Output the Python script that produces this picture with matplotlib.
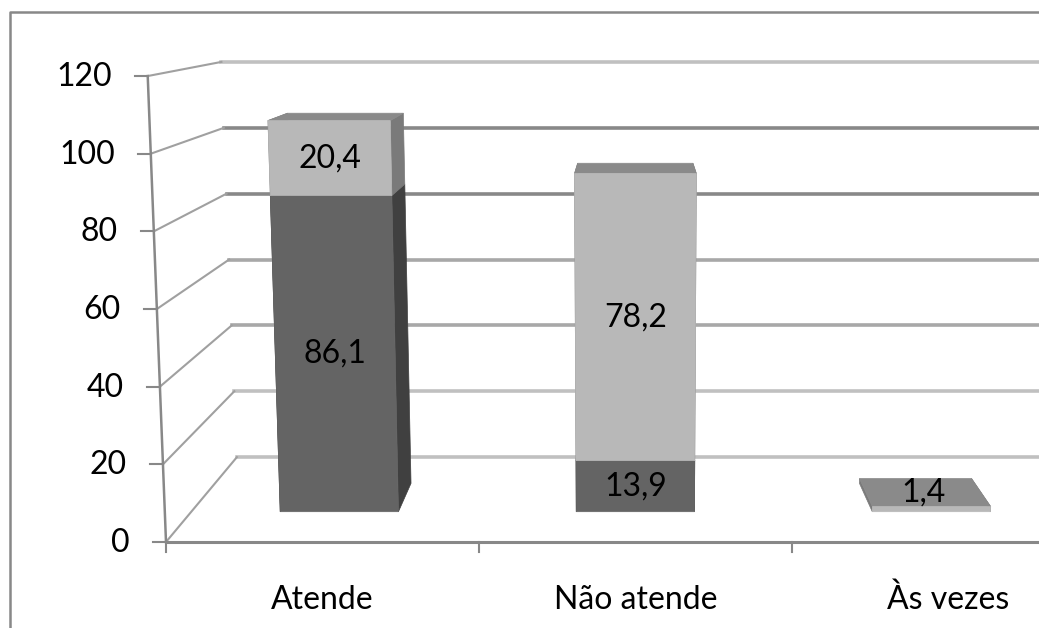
import numpy as np
import matplotlib.pyplot as plt
from matplotlib.patches import Polygon

# Data
categories = ['Atende', 'Não atende', 'Às vezes']
dark_vals = [86.1, 13.9, 0.0]
light_vals = [20.4, 78.2, 1.4]
dark_labels = ['86,1', '13,9', '']
light_labels = ['20,4', '78,2', '1,4']
y_ticks = [0, 20, 40, 60, 80, 100, 120]
grid_colors = ['#c0c0c0', '#c0c0c0', '#a8a8a8', '#a8a8a8', '#888888', '#888888', '#c0c0c0']

# Perspective set-up, in pixels
W, H = 1039, 628
vx, vy = 633, -17      # vanishing point
x0, y0 = 166, 542      # front corner of the floor
cat_w = 313            # width of one category on the front plane
bar_w = 125
px_per_unit = 3.883
k_tilt = 8.4e-5
c_depth = 0.179
z_front, z_back = 0.32, 0.655

FONT = 'Lato'
FS = 23


def proj(X, V, Z):
    h = px_per_unit * V
    xf = vx + (X - vx) * (1 + k_tilt * h)
    yf = y0 - h
    s = 1 / (1 + c_depth * Z)
    return vx + (xf - vx) * s, vy + (yf - vy) * s


def face(ax, pts, color, z):
    ax.add_patch(Polygon([proj(*p) for p in pts], closed=True, facecolor=color,
                         edgecolor=color, lw=0.5, zorder=z))


def box(ax, xl, xr, vb, vt, front, side, top, z):
    zf, zb = z_front, z_back
    face(ax, [(xl, vb, zf), (xl, vt, zf), (xl, vt, zb), (xl, vb, zb)], side, z)
    face(ax, [(xr, vb, zf), (xr, vt, zf), (xr, vt, zb), (xr, vb, zb)], side, z)
    face(ax, [(xl, vt, zf), (xr, vt, zf), (xr, vt, zb), (xl, vt, zb)], top, z + 0.1)
    face(ax, [(xl, vb, zf), (xr, vb, zf), (xr, vt, zf), (xl, vt, zf)], front, z + 0.2)


fig = plt.figure(figsize=(W / 100, H / 100), dpi=100)
ax = fig.add_axes([0, 0, 1, 1])
ax.set_xlim(0, W)
ax.set_ylim(H, 0)
ax.axis('off')

# outer frame
ax.plot([10, 10, W], [H, 12, 12], color='#888888', lw=1.8, zorder=1)

# back wall gridlines and side wall lines
for v, gc in zip(y_ticks, grid_colors):
    bx, by = proj(x0, v, 1)
    ax.plot([bx, W], [by, by], color=gc, lw=2.6, zorder=1)
    fx, fy = proj(x0, v, 0)
    ax.plot([fx, bx], [fy, by], color='#a0a0a0', lw=1.5, zorder=1)
    ax.plot([fx - 13, fx], [fy, fy], color='#888888', lw=1.5, zorder=2)
    ax.text(fx - 36, fy + 1, str(v), ha='right', va='center', fontsize=FS,
            family=FONT, zorder=5)

# front value axis and category axis
ax.plot(*zip(proj(x0, 0, 0), proj(x0, 120, 0)), color='#888888', lw=1.8, zorder=2)
ax.plot([x0, W], [y0, y0], color='#888888', lw=2.2, zorder=2)
for i in range(len(categories) + 1):
    tx = x0 + i * cat_w
    ax.plot([tx, tx], [y0, y0 + 10], color='#888888', lw=1.5, zorder=2)

# bars
for i, cat in enumerate(categories):
    cx = x0 + (i + 0.5) * cat_w
    xl, xr = cx - bar_w / 2, cx + bar_w / 2
    segs = [(0, dark_vals[i], '#646464', '#404040', '#5a5a5a', dark_labels[i]),
            (dark_vals[i], dark_vals[i] + light_vals[i], '#b8b8b8', '#7a7a7a', '#8a8a8a',
             light_labels[i])]
    for j, (vb, vt, fc, sc, tc, lab) in enumerate(segs):
        if vt - vb <= 0:
            continue
        box(ax, xl, xr, vb, vt, fc, sc, tc, 3 + j)
        if not lab:
            continue
        front_h = proj(cx, vb, z_front)[1] - proj(cx, vt, z_front)[1]
        if front_h > 25:
            lx, ly = proj(cx, (vb + vt) / 2, z_front)
        else:
            lx, ly = proj(cx, vt, (z_front + z_back) / 2)
        ax.text(lx, ly, lab, ha='center', va='center', fontsize=FS, family=FONT, zorder=6)
    ax.text(cx, 600, cat, ha='center', va='center', fontsize=FS, family=FONT, zorder=5)

fig.savefig('out.png', dpi=100)
